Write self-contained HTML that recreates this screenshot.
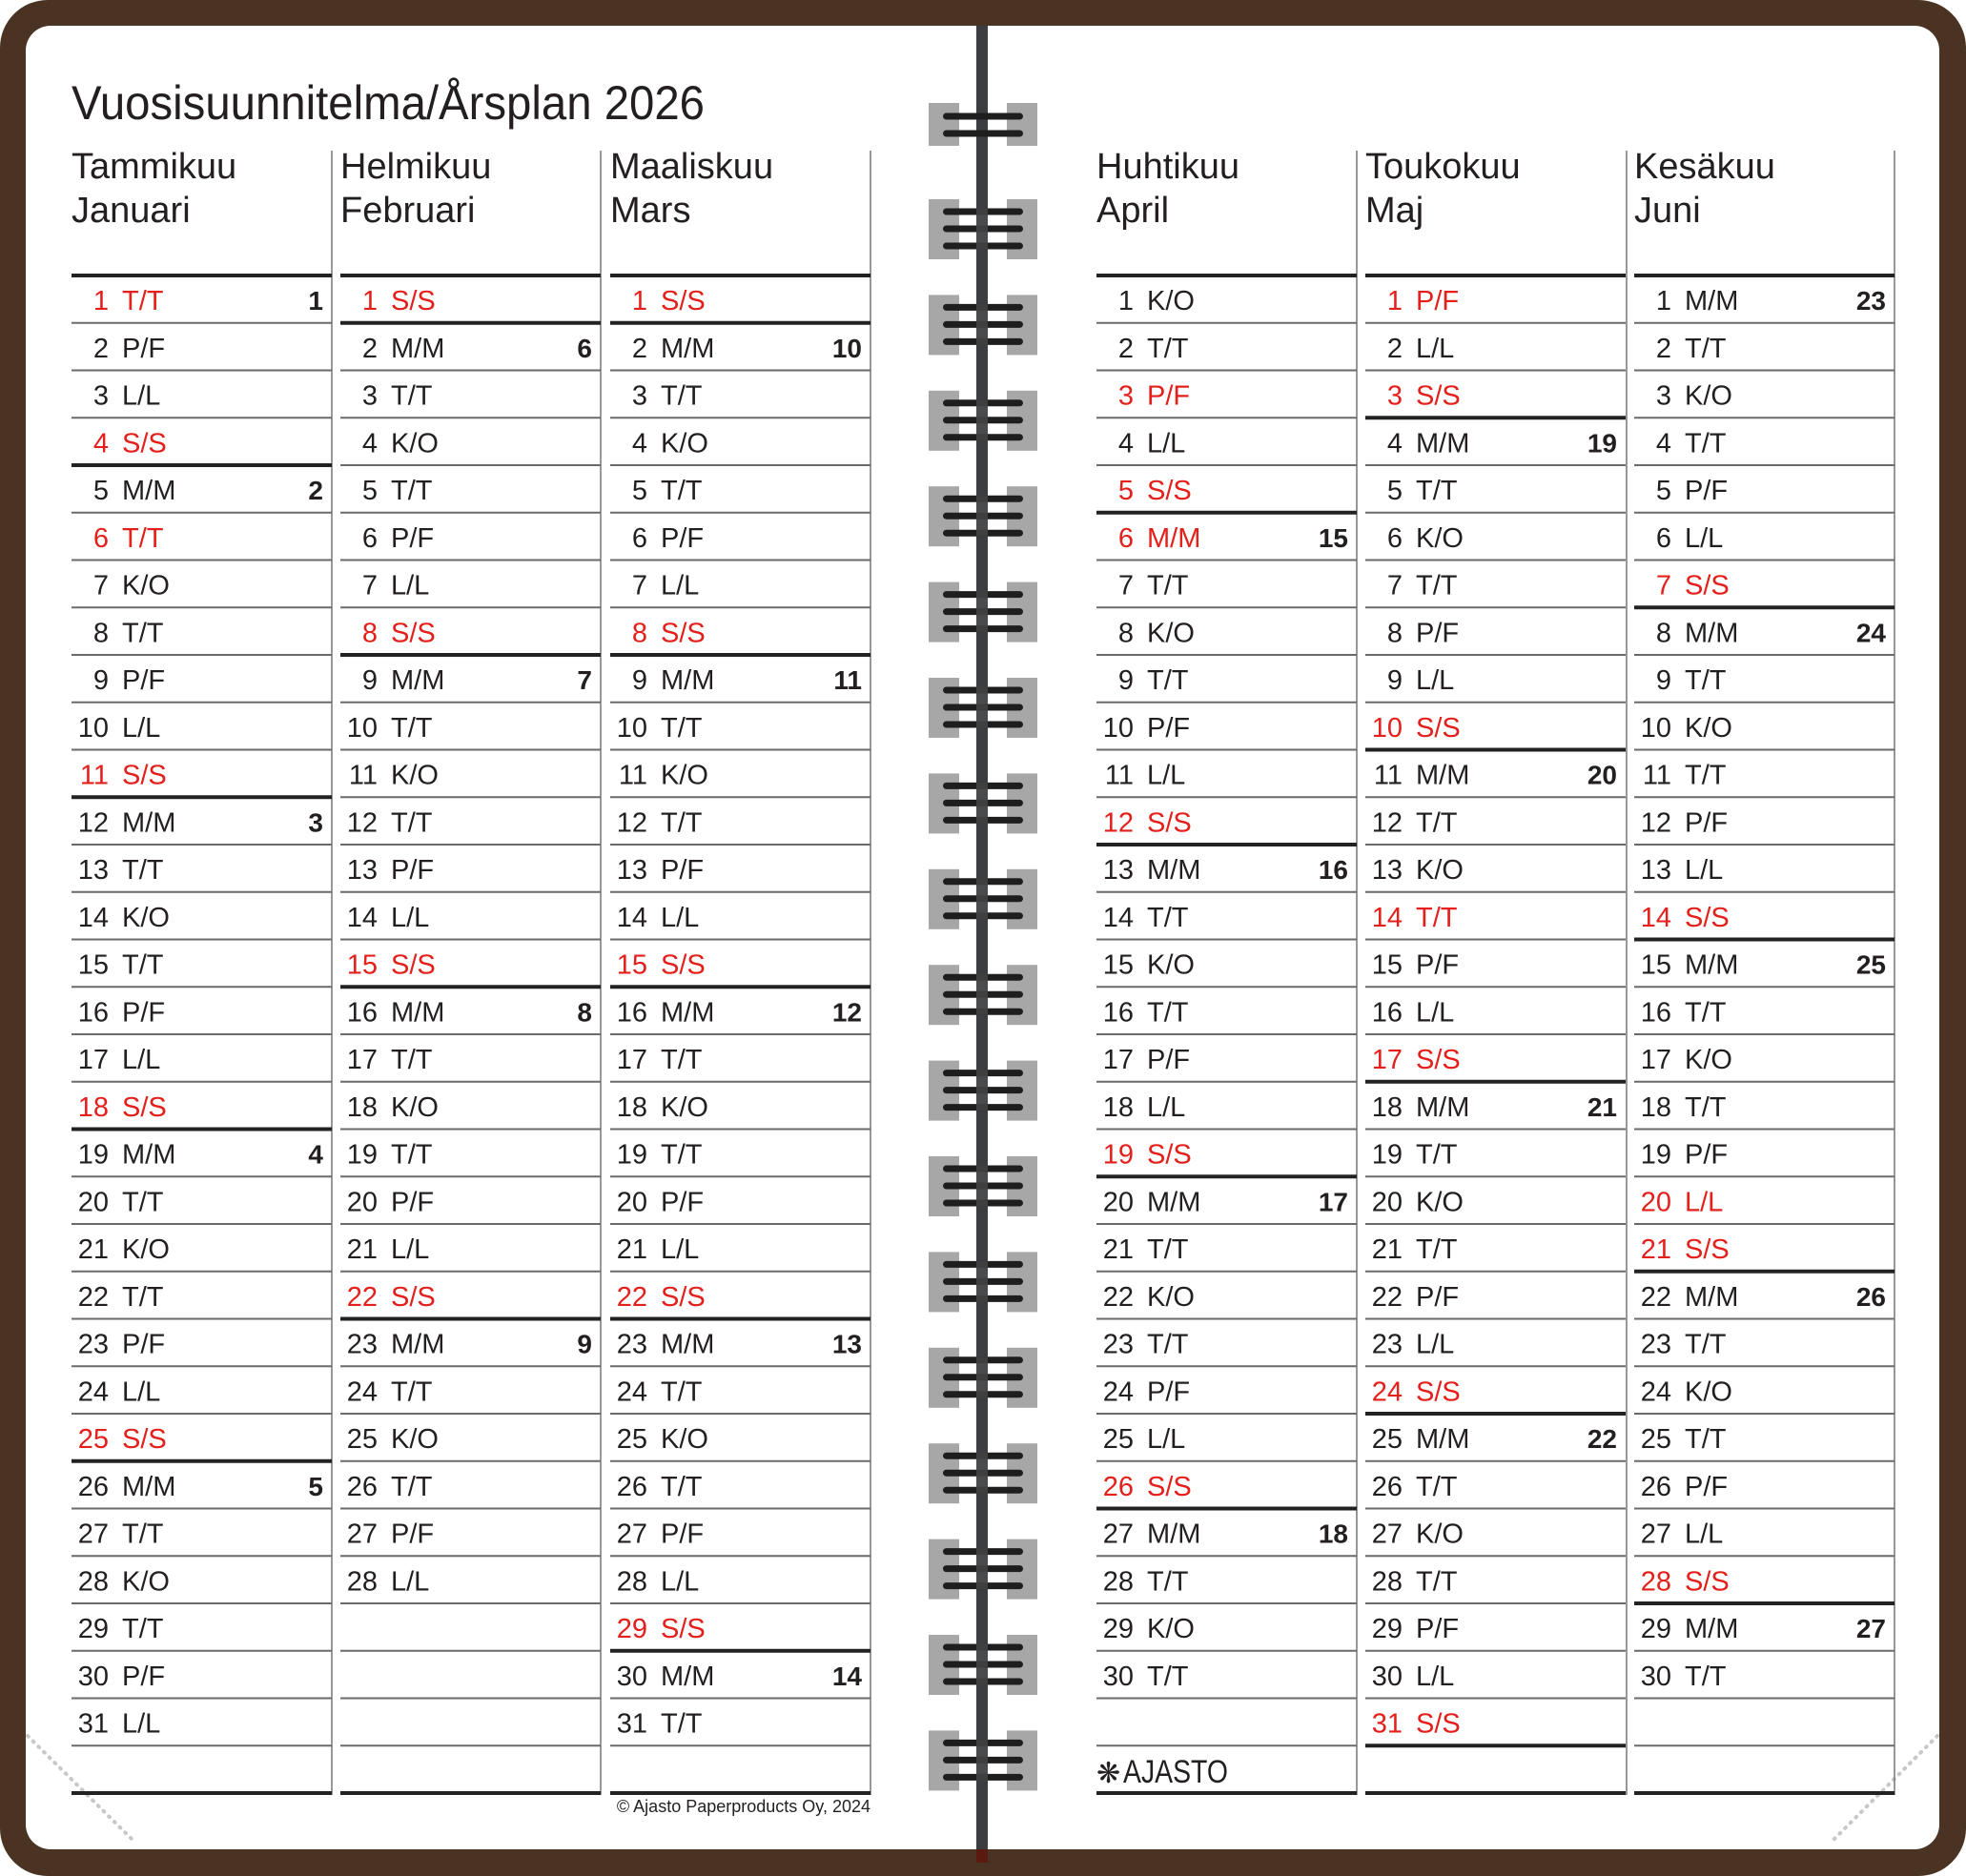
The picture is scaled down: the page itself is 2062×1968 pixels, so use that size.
<!DOCTYPE html>
<html><head><meta charset="utf-8"><style>
html,body{margin:0;padding:0;background:#fff}
svg{display:block}
text{font-family:"Liberation Sans",sans-serif;fill:#231f20}
.d{font-size:29px}
.d .n{text-anchor:end}
.r{fill:#e3201b}
.r tspan{fill:#e3201b}
.w{font-size:28px;font-weight:bold;text-anchor:end}
.m{font-size:38px}
</style></head><body>
<svg width="2062" height="1968" viewBox="0 0 2062 1968" xmlns="http://www.w3.org/2000/svg">
<defs>
<path id="thin" d="M0 338.75h273M0 388.5h273M0 438.25h273M0 488h273M0 537.75h273M0 587.5h273M0 637.25h273M0 687h273M0 736.75h273M0 786.5h273M0 836.25h273M0 886h273M0 935.75h273M0 985.5h273M0 1035.25h273M0 1085h273M0 1134.75h273M0 1184.5h273M0 1234.25h273M0 1284h273M0 1333.75h273M0 1383.5h273M0 1433.25h273M0 1483h273M0 1532.75h273M0 1582.5h273M0 1632.25h273M0 1682h273M0 1731.75h273M0 1781.5h273M0 1831.25h273" stroke="#6a6a6a" stroke-width="2" fill="none"/>
<g id="ring3">
<rect x="974" y="-31" width="32" height="63" fill="#a7a7a7"/>
<rect x="1056" y="-31" width="32" height="63" fill="#a7a7a7"/>
<rect x="989" y="-21.5" width="84" height="7" rx="3.5" fill="#1e1e1e"/>
<rect x="989" y="-3.5" width="84" height="7" rx="3.5" fill="#1e1e1e"/>
<rect x="989" y="14.5" width="84" height="7" rx="3.5" fill="#1e1e1e"/>
<rect x="1024" y="-21.5" width="12" height="43" fill="#555" opacity="0.6"/>
</g>
</defs>
<rect x="0" y="0" width="2062" height="1968" rx="50" fill="#4a3322"/>
<rect x="27" y="27" width="2007" height="1913" rx="26" fill="#fff"/>
<path d="M29 1821L142 1933M2032 1821L1920 1933" stroke="#c8c8c8" stroke-width="4" stroke-dasharray="1 7" stroke-linecap="round"/>

<!-- spine -->
<rect x="1024" y="27" width="12" height="1925" fill="#3b3d40"/>
<rect x="1024" y="1940" width="12" height="14" fill="#5a1a10"/>
<rect x="974" y="108" width="32" height="45" fill="#a7a7a7"/>
<rect x="1056" y="108" width="32" height="45" fill="#a7a7a7"/>
<rect x="989" y="118.5" width="84" height="7" rx="3.5" fill="#1e1e1e"/>
<rect x="989" y="136.5" width="84" height="7" rx="3.5" fill="#1e1e1e"/>
<use href="#ring3" transform="translate(0,240)"/>
<use href="#ring3" transform="translate(0,340.4)"/>
<use href="#ring3" transform="translate(0,440.8)"/>
<use href="#ring3" transform="translate(0,541.2)"/>
<use href="#ring3" transform="translate(0,641.6)"/>
<use href="#ring3" transform="translate(0,742)"/>
<use href="#ring3" transform="translate(0,842.4)"/>
<use href="#ring3" transform="translate(0,942.8)"/>
<use href="#ring3" transform="translate(0,1043.2)"/>
<use href="#ring3" transform="translate(0,1143.6)"/>
<use href="#ring3" transform="translate(0,1244)"/>
<use href="#ring3" transform="translate(0,1344.4)"/>
<use href="#ring3" transform="translate(0,1444.8)"/>
<use href="#ring3" transform="translate(0,1545.2)"/>
<use href="#ring3" transform="translate(0,1645.6)"/>
<use href="#ring3" transform="translate(0,1746)"/>
<use href="#ring3" transform="translate(0,1846.4)"/>

<text x="75" y="125" font-size="50" textLength="664" lengthAdjust="spacingAndGlyphs">Vuosisuunnitelma/Årsplan 2026</text>
<text x="913" y="1901" font-size="18" text-anchor="end">© Ajasto Paperproducts Oy, 2024</text>

<!-- JANUARY -->
<g transform="translate(75,0)">
<line x1="273" y1="158" x2="273" y2="1883" stroke="#777" stroke-width="1.5"/>
<use href="#thin"/>
<path d="M0 289h273M0 488h273M0 836.25h273M0 1184.5h273M0 1532.75h273M0 1881h273" stroke="#222" stroke-width="4"/>
<text class="m" y="187">Tammikuu</text><text class="m" y="233">Januari</text>
<g class="d">
<text class="r" y="325"><tspan class="n" x="39">1</tspan><tspan x="53">T/T</tspan></text><text class="w" x="264" y="325">1</text>
<text y="374.75"><tspan class="n" x="39">2</tspan><tspan x="53">P/F</tspan></text>
<text y="424.5"><tspan class="n" x="39">3</tspan><tspan x="53">L/L</tspan></text>
<text class="r" y="474.25"><tspan class="n" x="39">4</tspan><tspan x="53">S/S</tspan></text>
<text y="524"><tspan class="n" x="39">5</tspan><tspan x="53">M/M</tspan></text><text class="w" x="264" y="524">2</text>
<text class="r" y="573.75"><tspan class="n" x="39">6</tspan><tspan x="53">T/T</tspan></text>
<text y="623.5"><tspan class="n" x="39">7</tspan><tspan x="53">K/O</tspan></text>
<text y="673.25"><tspan class="n" x="39">8</tspan><tspan x="53">T/T</tspan></text>
<text y="723"><tspan class="n" x="39">9</tspan><tspan x="53">P/F</tspan></text>
<text y="772.75"><tspan class="n" x="39">10</tspan><tspan x="53">L/L</tspan></text>
<text class="r" y="822.5"><tspan class="n" x="39">11</tspan><tspan x="53">S/S</tspan></text>
<text y="872.25"><tspan class="n" x="39">12</tspan><tspan x="53">M/M</tspan></text><text class="w" x="264" y="872.25">3</text>
<text y="922"><tspan class="n" x="39">13</tspan><tspan x="53">T/T</tspan></text>
<text y="971.75"><tspan class="n" x="39">14</tspan><tspan x="53">K/O</tspan></text>
<text y="1021.5"><tspan class="n" x="39">15</tspan><tspan x="53">T/T</tspan></text>
<text y="1071.25"><tspan class="n" x="39">16</tspan><tspan x="53">P/F</tspan></text>
<text y="1121"><tspan class="n" x="39">17</tspan><tspan x="53">L/L</tspan></text>
<text class="r" y="1170.75"><tspan class="n" x="39">18</tspan><tspan x="53">S/S</tspan></text>
<text y="1220.5"><tspan class="n" x="39">19</tspan><tspan x="53">M/M</tspan></text><text class="w" x="264" y="1220.5">4</text>
<text y="1270.25"><tspan class="n" x="39">20</tspan><tspan x="53">T/T</tspan></text>
<text y="1320"><tspan class="n" x="39">21</tspan><tspan x="53">K/O</tspan></text>
<text y="1369.75"><tspan class="n" x="39">22</tspan><tspan x="53">T/T</tspan></text>
<text y="1419.5"><tspan class="n" x="39">23</tspan><tspan x="53">P/F</tspan></text>
<text y="1469.25"><tspan class="n" x="39">24</tspan><tspan x="53">L/L</tspan></text>
<text class="r" y="1519"><tspan class="n" x="39">25</tspan><tspan x="53">S/S</tspan></text>
<text y="1568.75"><tspan class="n" x="39">26</tspan><tspan x="53">M/M</tspan></text><text class="w" x="264" y="1568.75">5</text>
<text y="1618.5"><tspan class="n" x="39">27</tspan><tspan x="53">T/T</tspan></text>
<text y="1668.25"><tspan class="n" x="39">28</tspan><tspan x="53">K/O</tspan></text>
<text y="1718"><tspan class="n" x="39">29</tspan><tspan x="53">T/T</tspan></text>
<text y="1767.75"><tspan class="n" x="39">30</tspan><tspan x="53">P/F</tspan></text>
<text y="1817.5"><tspan class="n" x="39">31</tspan><tspan x="53">L/L</tspan></text>
</g></g>

<!-- FEBRUARY -->
<g transform="translate(357,0)">
<line x1="273" y1="158" x2="273" y2="1883" stroke="#777" stroke-width="1.5"/>
<use href="#thin"/>
<path d="M0 289h273M0 338.75h273M0 687h273M0 1035.25h273M0 1383.5h273M0 1881h273" stroke="#222" stroke-width="4"/>
<text class="m" y="187">Helmikuu</text><text class="m" y="233">Februari</text>
<g class="d">
<text class="r" y="325"><tspan class="n" x="39">1</tspan><tspan x="53">S/S</tspan></text>
<text y="374.75"><tspan class="n" x="39">2</tspan><tspan x="53">M/M</tspan></text><text class="w" x="264" y="374.75">6</text>
<text y="424.5"><tspan class="n" x="39">3</tspan><tspan x="53">T/T</tspan></text>
<text y="474.25"><tspan class="n" x="39">4</tspan><tspan x="53">K/O</tspan></text>
<text y="524"><tspan class="n" x="39">5</tspan><tspan x="53">T/T</tspan></text>
<text y="573.75"><tspan class="n" x="39">6</tspan><tspan x="53">P/F</tspan></text>
<text y="623.5"><tspan class="n" x="39">7</tspan><tspan x="53">L/L</tspan></text>
<text class="r" y="673.25"><tspan class="n" x="39">8</tspan><tspan x="53">S/S</tspan></text>
<text y="723"><tspan class="n" x="39">9</tspan><tspan x="53">M/M</tspan></text><text class="w" x="264" y="723">7</text>
<text y="772.75"><tspan class="n" x="39">10</tspan><tspan x="53">T/T</tspan></text>
<text y="822.5"><tspan class="n" x="39">11</tspan><tspan x="53">K/O</tspan></text>
<text y="872.25"><tspan class="n" x="39">12</tspan><tspan x="53">T/T</tspan></text>
<text y="922"><tspan class="n" x="39">13</tspan><tspan x="53">P/F</tspan></text>
<text y="971.75"><tspan class="n" x="39">14</tspan><tspan x="53">L/L</tspan></text>
<text class="r" y="1021.5"><tspan class="n" x="39">15</tspan><tspan x="53">S/S</tspan></text>
<text y="1071.25"><tspan class="n" x="39">16</tspan><tspan x="53">M/M</tspan></text><text class="w" x="264" y="1071.25">8</text>
<text y="1121"><tspan class="n" x="39">17</tspan><tspan x="53">T/T</tspan></text>
<text y="1170.75"><tspan class="n" x="39">18</tspan><tspan x="53">K/O</tspan></text>
<text y="1220.5"><tspan class="n" x="39">19</tspan><tspan x="53">T/T</tspan></text>
<text y="1270.25"><tspan class="n" x="39">20</tspan><tspan x="53">P/F</tspan></text>
<text y="1320"><tspan class="n" x="39">21</tspan><tspan x="53">L/L</tspan></text>
<text class="r" y="1369.75"><tspan class="n" x="39">22</tspan><tspan x="53">S/S</tspan></text>
<text y="1419.5"><tspan class="n" x="39">23</tspan><tspan x="53">M/M</tspan></text><text class="w" x="264" y="1419.5">9</text>
<text y="1469.25"><tspan class="n" x="39">24</tspan><tspan x="53">T/T</tspan></text>
<text y="1519"><tspan class="n" x="39">25</tspan><tspan x="53">K/O</tspan></text>
<text y="1568.75"><tspan class="n" x="39">26</tspan><tspan x="53">T/T</tspan></text>
<text y="1618.5"><tspan class="n" x="39">27</tspan><tspan x="53">P/F</tspan></text>
<text y="1668.25"><tspan class="n" x="39">28</tspan><tspan x="53">L/L</tspan></text>
</g></g>

<!-- MARCH -->
<g transform="translate(640,0)">
<line x1="273" y1="158" x2="273" y2="1883" stroke="#777" stroke-width="1.5"/>
<use href="#thin"/>
<path d="M0 289h273M0 338.75h273M0 687h273M0 1035.25h273M0 1383.5h273M0 1731.75h273M0 1881h273" stroke="#222" stroke-width="4"/>
<text class="m" y="187">Maaliskuu</text><text class="m" y="233">Mars</text>
<g class="d">
<text class="r" y="325"><tspan class="n" x="39">1</tspan><tspan x="53">S/S</tspan></text>
<text y="374.75"><tspan class="n" x="39">2</tspan><tspan x="53">M/M</tspan></text><text class="w" x="264" y="374.75">10</text>
<text y="424.5"><tspan class="n" x="39">3</tspan><tspan x="53">T/T</tspan></text>
<text y="474.25"><tspan class="n" x="39">4</tspan><tspan x="53">K/O</tspan></text>
<text y="524"><tspan class="n" x="39">5</tspan><tspan x="53">T/T</tspan></text>
<text y="573.75"><tspan class="n" x="39">6</tspan><tspan x="53">P/F</tspan></text>
<text y="623.5"><tspan class="n" x="39">7</tspan><tspan x="53">L/L</tspan></text>
<text class="r" y="673.25"><tspan class="n" x="39">8</tspan><tspan x="53">S/S</tspan></text>
<text y="723"><tspan class="n" x="39">9</tspan><tspan x="53">M/M</tspan></text><text class="w" x="264" y="723">11</text>
<text y="772.75"><tspan class="n" x="39">10</tspan><tspan x="53">T/T</tspan></text>
<text y="822.5"><tspan class="n" x="39">11</tspan><tspan x="53">K/O</tspan></text>
<text y="872.25"><tspan class="n" x="39">12</tspan><tspan x="53">T/T</tspan></text>
<text y="922"><tspan class="n" x="39">13</tspan><tspan x="53">P/F</tspan></text>
<text y="971.75"><tspan class="n" x="39">14</tspan><tspan x="53">L/L</tspan></text>
<text class="r" y="1021.5"><tspan class="n" x="39">15</tspan><tspan x="53">S/S</tspan></text>
<text y="1071.25"><tspan class="n" x="39">16</tspan><tspan x="53">M/M</tspan></text><text class="w" x="264" y="1071.25">12</text>
<text y="1121"><tspan class="n" x="39">17</tspan><tspan x="53">T/T</tspan></text>
<text y="1170.75"><tspan class="n" x="39">18</tspan><tspan x="53">K/O</tspan></text>
<text y="1220.5"><tspan class="n" x="39">19</tspan><tspan x="53">T/T</tspan></text>
<text y="1270.25"><tspan class="n" x="39">20</tspan><tspan x="53">P/F</tspan></text>
<text y="1320"><tspan class="n" x="39">21</tspan><tspan x="53">L/L</tspan></text>
<text class="r" y="1369.75"><tspan class="n" x="39">22</tspan><tspan x="53">S/S</tspan></text>
<text y="1419.5"><tspan class="n" x="39">23</tspan><tspan x="53">M/M</tspan></text><text class="w" x="264" y="1419.5">13</text>
<text y="1469.25"><tspan class="n" x="39">24</tspan><tspan x="53">T/T</tspan></text>
<text y="1519"><tspan class="n" x="39">25</tspan><tspan x="53">K/O</tspan></text>
<text y="1568.75"><tspan class="n" x="39">26</tspan><tspan x="53">T/T</tspan></text>
<text y="1618.5"><tspan class="n" x="39">27</tspan><tspan x="53">P/F</tspan></text>
<text y="1668.25"><tspan class="n" x="39">28</tspan><tspan x="53">L/L</tspan></text>
<text class="r" y="1718"><tspan class="n" x="39">29</tspan><tspan x="53">S/S</tspan></text>
<text y="1767.75"><tspan class="n" x="39">30</tspan><tspan x="53">M/M</tspan></text><text class="w" x="264" y="1767.75">14</text>
<text y="1817.5"><tspan class="n" x="39">31</tspan><tspan x="53">T/T</tspan></text>
</g></g>

<!-- APRIL -->
<g transform="translate(1150,0)">
<line x1="273" y1="158" x2="273" y2="1883" stroke="#777" stroke-width="1.5"/>
<use href="#thin"/>
<path d="M0 289h273M0 537.75h273M0 886h273M0 1234.25h273M0 1582.5h273M0 1881h273" stroke="#222" stroke-width="4"/>
<text class="m" y="187">Huhtikuu</text><text class="m" y="233">April</text>
<g class="d">
<text y="325"><tspan class="n" x="39">1</tspan><tspan x="53">K/O</tspan></text>
<text y="374.75"><tspan class="n" x="39">2</tspan><tspan x="53">T/T</tspan></text>
<text class="r" y="424.5"><tspan class="n" x="39">3</tspan><tspan x="53">P/F</tspan></text>
<text y="474.25"><tspan class="n" x="39">4</tspan><tspan x="53">L/L</tspan></text>
<text class="r" y="524"><tspan class="n" x="39">5</tspan><tspan x="53">S/S</tspan></text>
<text class="r" y="573.75"><tspan class="n" x="39">6</tspan><tspan x="53">M/M</tspan></text><text class="w" x="264" y="573.75">15</text>
<text y="623.5"><tspan class="n" x="39">7</tspan><tspan x="53">T/T</tspan></text>
<text y="673.25"><tspan class="n" x="39">8</tspan><tspan x="53">K/O</tspan></text>
<text y="723"><tspan class="n" x="39">9</tspan><tspan x="53">T/T</tspan></text>
<text y="772.75"><tspan class="n" x="39">10</tspan><tspan x="53">P/F</tspan></text>
<text y="822.5"><tspan class="n" x="39">11</tspan><tspan x="53">L/L</tspan></text>
<text class="r" y="872.25"><tspan class="n" x="39">12</tspan><tspan x="53">S/S</tspan></text>
<text y="922"><tspan class="n" x="39">13</tspan><tspan x="53">M/M</tspan></text><text class="w" x="264" y="922">16</text>
<text y="971.75"><tspan class="n" x="39">14</tspan><tspan x="53">T/T</tspan></text>
<text y="1021.5"><tspan class="n" x="39">15</tspan><tspan x="53">K/O</tspan></text>
<text y="1071.25"><tspan class="n" x="39">16</tspan><tspan x="53">T/T</tspan></text>
<text y="1121"><tspan class="n" x="39">17</tspan><tspan x="53">P/F</tspan></text>
<text y="1170.75"><tspan class="n" x="39">18</tspan><tspan x="53">L/L</tspan></text>
<text class="r" y="1220.5"><tspan class="n" x="39">19</tspan><tspan x="53">S/S</tspan></text>
<text y="1270.25"><tspan class="n" x="39">20</tspan><tspan x="53">M/M</tspan></text><text class="w" x="264" y="1270.25">17</text>
<text y="1320"><tspan class="n" x="39">21</tspan><tspan x="53">T/T</tspan></text>
<text y="1369.75"><tspan class="n" x="39">22</tspan><tspan x="53">K/O</tspan></text>
<text y="1419.5"><tspan class="n" x="39">23</tspan><tspan x="53">T/T</tspan></text>
<text y="1469.25"><tspan class="n" x="39">24</tspan><tspan x="53">P/F</tspan></text>
<text y="1519"><tspan class="n" x="39">25</tspan><tspan x="53">L/L</tspan></text>
<text class="r" y="1568.75"><tspan class="n" x="39">26</tspan><tspan x="53">S/S</tspan></text>
<text y="1618.5"><tspan class="n" x="39">27</tspan><tspan x="53">M/M</tspan></text><text class="w" x="264" y="1618.5">18</text>
<text y="1668.25"><tspan class="n" x="39">28</tspan><tspan x="53">T/T</tspan></text>
<text y="1718"><tspan class="n" x="39">29</tspan><tspan x="53">K/O</tspan></text>
<text y="1767.75"><tspan class="n" x="39">30</tspan><tspan x="53">T/T</tspan></text>
</g>
<text x="0" y="1870" font-size="30" style="font-family:'DejaVu Sans',sans-serif">❋</text>
<text x="28" y="1870" font-size="34" textLength="110" lengthAdjust="spacingAndGlyphs">AJASTO</text>
</g>

<!-- MAY -->
<g transform="translate(1432,0)">
<line x1="274" y1="158" x2="274" y2="1883" stroke="#777" stroke-width="1.5"/>
<use href="#thin"/>
<path d="M0 289h273M0 438.25h273M0 786.5h273M0 1134.75h273M0 1483h273M0 1831.25h273M0 1881h273" stroke="#222" stroke-width="4"/>
<text class="m" y="187">Toukokuu</text><text class="m" y="233">Maj</text>
<g class="d">
<text class="r" y="325"><tspan class="n" x="39">1</tspan><tspan x="53">P/F</tspan></text>
<text y="374.75"><tspan class="n" x="39">2</tspan><tspan x="53">L/L</tspan></text>
<text class="r" y="424.5"><tspan class="n" x="39">3</tspan><tspan x="53">S/S</tspan></text>
<text y="474.25"><tspan class="n" x="39">4</tspan><tspan x="53">M/M</tspan></text><text class="w" x="264" y="474.25">19</text>
<text y="524"><tspan class="n" x="39">5</tspan><tspan x="53">T/T</tspan></text>
<text y="573.75"><tspan class="n" x="39">6</tspan><tspan x="53">K/O</tspan></text>
<text y="623.5"><tspan class="n" x="39">7</tspan><tspan x="53">T/T</tspan></text>
<text y="673.25"><tspan class="n" x="39">8</tspan><tspan x="53">P/F</tspan></text>
<text y="723"><tspan class="n" x="39">9</tspan><tspan x="53">L/L</tspan></text>
<text class="r" y="772.75"><tspan class="n" x="39">10</tspan><tspan x="53">S/S</tspan></text>
<text y="822.5"><tspan class="n" x="39">11</tspan><tspan x="53">M/M</tspan></text><text class="w" x="264" y="822.5">20</text>
<text y="872.25"><tspan class="n" x="39">12</tspan><tspan x="53">T/T</tspan></text>
<text y="922"><tspan class="n" x="39">13</tspan><tspan x="53">K/O</tspan></text>
<text class="r" y="971.75"><tspan class="n" x="39">14</tspan><tspan x="53">T/T</tspan></text>
<text y="1021.5"><tspan class="n" x="39">15</tspan><tspan x="53">P/F</tspan></text>
<text y="1071.25"><tspan class="n" x="39">16</tspan><tspan x="53">L/L</tspan></text>
<text class="r" y="1121"><tspan class="n" x="39">17</tspan><tspan x="53">S/S</tspan></text>
<text y="1170.75"><tspan class="n" x="39">18</tspan><tspan x="53">M/M</tspan></text><text class="w" x="264" y="1170.75">21</text>
<text y="1220.5"><tspan class="n" x="39">19</tspan><tspan x="53">T/T</tspan></text>
<text y="1270.25"><tspan class="n" x="39">20</tspan><tspan x="53">K/O</tspan></text>
<text y="1320"><tspan class="n" x="39">21</tspan><tspan x="53">T/T</tspan></text>
<text y="1369.75"><tspan class="n" x="39">22</tspan><tspan x="53">P/F</tspan></text>
<text y="1419.5"><tspan class="n" x="39">23</tspan><tspan x="53">L/L</tspan></text>
<text class="r" y="1469.25"><tspan class="n" x="39">24</tspan><tspan x="53">S/S</tspan></text>
<text y="1519"><tspan class="n" x="39">25</tspan><tspan x="53">M/M</tspan></text><text class="w" x="264" y="1519">22</text>
<text y="1568.75"><tspan class="n" x="39">26</tspan><tspan x="53">T/T</tspan></text>
<text y="1618.5"><tspan class="n" x="39">27</tspan><tspan x="53">K/O</tspan></text>
<text y="1668.25"><tspan class="n" x="39">28</tspan><tspan x="53">T/T</tspan></text>
<text y="1718"><tspan class="n" x="39">29</tspan><tspan x="53">P/F</tspan></text>
<text y="1767.75"><tspan class="n" x="39">30</tspan><tspan x="53">L/L</tspan></text>
<text class="r" y="1817.5"><tspan class="n" x="39">31</tspan><tspan x="53">S/S</tspan></text>
</g></g>

<!-- JUNE -->
<g transform="translate(1714,0)">
<line x1="273" y1="158" x2="273" y2="1883" stroke="#777" stroke-width="1.5"/>
<use href="#thin"/>
<path d="M0 289h273M0 637.25h273M0 985.5h273M0 1333.75h273M0 1682h273M0 1881h273" stroke="#222" stroke-width="4"/>
<text class="m" y="187">Kesäkuu</text><text class="m" y="233">Juni</text>
<g class="d">
<text y="325"><tspan class="n" x="39">1</tspan><tspan x="53">M/M</tspan></text><text class="w" x="264" y="325">23</text>
<text y="374.75"><tspan class="n" x="39">2</tspan><tspan x="53">T/T</tspan></text>
<text y="424.5"><tspan class="n" x="39">3</tspan><tspan x="53">K/O</tspan></text>
<text y="474.25"><tspan class="n" x="39">4</tspan><tspan x="53">T/T</tspan></text>
<text y="524"><tspan class="n" x="39">5</tspan><tspan x="53">P/F</tspan></text>
<text y="573.75"><tspan class="n" x="39">6</tspan><tspan x="53">L/L</tspan></text>
<text class="r" y="623.5"><tspan class="n" x="39">7</tspan><tspan x="53">S/S</tspan></text>
<text y="673.25"><tspan class="n" x="39">8</tspan><tspan x="53">M/M</tspan></text><text class="w" x="264" y="673.25">24</text>
<text y="723"><tspan class="n" x="39">9</tspan><tspan x="53">T/T</tspan></text>
<text y="772.75"><tspan class="n" x="39">10</tspan><tspan x="53">K/O</tspan></text>
<text y="822.5"><tspan class="n" x="39">11</tspan><tspan x="53">T/T</tspan></text>
<text y="872.25"><tspan class="n" x="39">12</tspan><tspan x="53">P/F</tspan></text>
<text y="922"><tspan class="n" x="39">13</tspan><tspan x="53">L/L</tspan></text>
<text class="r" y="971.75"><tspan class="n" x="39">14</tspan><tspan x="53">S/S</tspan></text>
<text y="1021.5"><tspan class="n" x="39">15</tspan><tspan x="53">M/M</tspan></text><text class="w" x="264" y="1021.5">25</text>
<text y="1071.25"><tspan class="n" x="39">16</tspan><tspan x="53">T/T</tspan></text>
<text y="1121"><tspan class="n" x="39">17</tspan><tspan x="53">K/O</tspan></text>
<text y="1170.75"><tspan class="n" x="39">18</tspan><tspan x="53">T/T</tspan></text>
<text y="1220.5"><tspan class="n" x="39">19</tspan><tspan x="53">P/F</tspan></text>
<text class="r" y="1270.25"><tspan class="n" x="39">20</tspan><tspan x="53">L/L</tspan></text>
<text class="r" y="1320"><tspan class="n" x="39">21</tspan><tspan x="53">S/S</tspan></text>
<text y="1369.75"><tspan class="n" x="39">22</tspan><tspan x="53">M/M</tspan></text><text class="w" x="264" y="1369.75">26</text>
<text y="1419.5"><tspan class="n" x="39">23</tspan><tspan x="53">T/T</tspan></text>
<text y="1469.25"><tspan class="n" x="39">24</tspan><tspan x="53">K/O</tspan></text>
<text y="1519"><tspan class="n" x="39">25</tspan><tspan x="53">T/T</tspan></text>
<text y="1568.75"><tspan class="n" x="39">26</tspan><tspan x="53">P/F</tspan></text>
<text y="1618.5"><tspan class="n" x="39">27</tspan><tspan x="53">L/L</tspan></text>
<text class="r" y="1668.25"><tspan class="n" x="39">28</tspan><tspan x="53">S/S</tspan></text>
<text y="1718"><tspan class="n" x="39">29</tspan><tspan x="53">M/M</tspan></text><text class="w" x="264" y="1718">27</text>
<text y="1767.75"><tspan class="n" x="39">30</tspan><tspan x="53">T/T</tspan></text>
</g></g>
</svg>
</body></html>
